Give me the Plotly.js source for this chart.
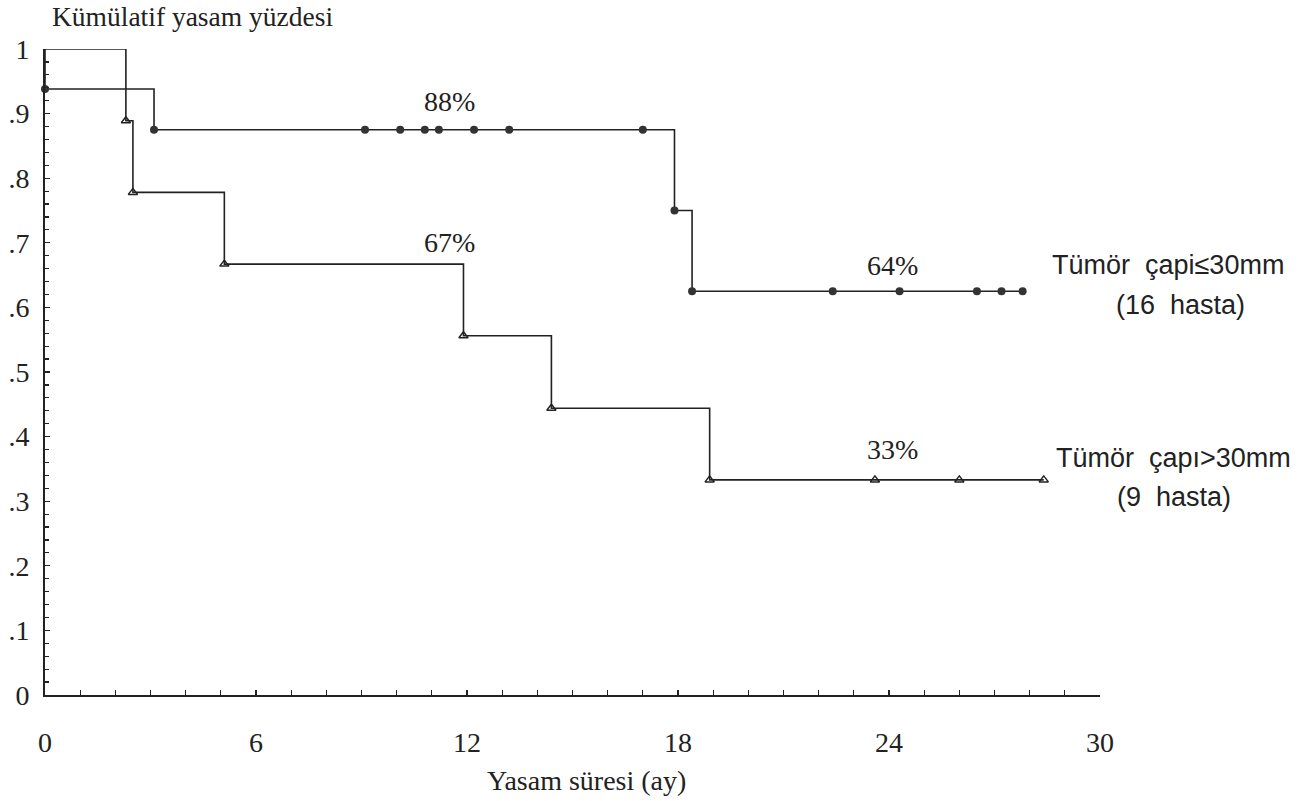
<!DOCTYPE html>
<html>
<head>
<meta charset="utf-8">
<script src="https://cdn.plot.ly/plotly-3.0.1.min.js"></script>
<style>
  html, body { margin: 0; padding: 0; background: #ffffff; }
  #chart { width: 1305px; height: 801px; }
</style>
</head>
<body>
<div id="chart"></div>
<script>
// ---- Data ----
// Group 1: Tümör çapı ≤ 30 mm (16 hasta) – filled circles
const smallStart = 1.0;
const smallEventMonths = [0, 3.1, 17.9, 18.4];
const smallSurvival   = [0.938, 0.875, 0.75, 0.625];
const smallCensorMonths = [9.1, 10.1, 10.8, 11.2, 12.2, 13.2, 17.0, 22.4, 24.3, 26.5, 27.2, 27.8];

// Group 2: Tümör çapı > 30 mm (9 hasta) – open triangles
const largeStart = 1.0;
const largeEventMonths = [2.3, 2.5, 5.1, 11.9, 14.4, 18.9];
const largeSurvival   = [0.889, 0.778, 0.667, 0.556, 0.444, 0.333];
const largeCensorMonths = [23.6, 26.0, 28.4];

// Axis tick labels
const xTickVals = [0, 6, 12, 18, 24, 30];
const xTickText = ['0', '6', '12', '18', '24', '30'];
const yTickVals = [0, 0.1, 0.2, 0.3, 0.4, 0.5, 0.6, 0.7, 0.8, 0.9, 1];
const yTickText = ['0', '.1', '.2', '.3', '.4', '.5', '.6', '.7', '.8', '.9', '1'];

// Text labels
const chartTitle = 'Kümülatif yasam yüzdesi';
const xTitle = 'Yasam süresi (ay)';
const percentLabels = ['88%', '67%', '64%', '33%'];
const groupLabels = ['Tümör\u00a0 çapi≤30mm', '(16\u00a0 hasta)', 'Tümör\u00a0 çapı>30mm', '(9\u00a0 hasta)'];

// ---- Helpers ----
function survivalAt(t, start, times, surv) {
  let s = start;
  for (let i = 0; i < times.length; i++) { if (times[i] <= t) s = surv[i]; }
  return s;
}
function stepLine(start, times, surv, censors) {
  const end = Math.max(times[times.length - 1], censors[censors.length - 1]);
  const x = [0].concat(times, [end]);
  const y = [start].concat(surv, [surv[surv.length - 1]]);
  return { x, y };
}

const ink = '#222222';
const serif = 'Liberation Serif, Times New Roman, serif';
const sans = 'Liberation Sans, Arial, sans-serif';

const s1 = stepLine(smallStart, smallEventMonths, smallSurvival, smallCensorMonths);
const s2 = stepLine(largeStart, largeEventMonths, largeSurvival, largeCensorMonths);

const traces = [
  { x: s1.x, y: s1.y, mode: 'lines', line: { shape: 'hv', color: ink, width: 1.6 }, cliponaxis: false, hoverinfo: 'skip', showlegend: false },
  { x: s2.x, y: s2.y, mode: 'lines', line: { shape: 'hv', color: ink, width: 1.6 }, cliponaxis: false, hoverinfo: 'skip', showlegend: false },
  { x: smallEventMonths.concat(smallCensorMonths),
    y: smallSurvival.concat(smallCensorMonths.map(t => survivalAt(t, smallStart, smallEventMonths, smallSurvival))),
    mode: 'markers', marker: { symbol: 'circle', size: 8, color: '#333333' }, cliponaxis: false, showlegend: false },
  { x: largeEventMonths.concat(largeCensorMonths),
    y: largeSurvival.concat(largeCensorMonths.map(t => survivalAt(t, largeStart, largeEventMonths, largeSurvival))),
    mode: 'markers', marker: { symbol: 'triangle-up-open', size: 8, color: ink, line: { width: 1.5, color: ink } }, cliponaxis: false, showlegend: false }
];

const annotations = [
  { text: percentLabels[0], x: 11.5, y: 0.918, xref: 'x', yref: 'y' },
  { text: percentLabels[1], x: 11.5, y: 0.70, xref: 'x', yref: 'y' },
  { text: percentLabels[2], x: 24.1, y: 0.665, xref: 'x', yref: 'y' },
  { text: percentLabels[3], x: 24.1, y: 0.38, xref: 'x', yref: 'y' }
].map(a => Object.assign(a, { showarrow: false, xanchor: 'center', yanchor: 'middle', font: { family: serif, size: 28, color: ink } }));

const sideLabels = [
  { text: groupLabels[0], x: 1.0645, y: 0.665 },
  { text: groupLabels[1], x: 1.076, y: 0.604 },
  { text: groupLabels[2], x: 1.070, y: 0.367 },
  { text: groupLabels[3], x: 1.070, y: 0.306 }
].map(a => Object.assign(a, { xref: 'paper', yref: 'paper', showarrow: false, xanchor: 'center', yanchor: 'middle', font: { family: sans, size: 27, color: ink } }));

const xTitleAnn = { text: xTitle, xref: 'paper', yref: 'paper', x: 0.513, y: -0.133, showarrow: false, xanchor: 'center', yanchor: 'middle', font: { family: serif, size: 28, color: ink } };

const layout = {
  width: 1305, height: 801,
  paper_bgcolor: '#ffffff', plot_bgcolor: '#ffffff',
  margin: { l: 45, r: 205, t: 49, b: 106 },
  title: { text: chartTitle, xref: 'container', yref: 'container', x: 52 / 1305, xanchor: 'left', y: 1 - 16 / 801, yanchor: 'middle', font: { family: serif, size: 27.5, color: ink } },
  xaxis: {
    range: [0, 30], showgrid: false, zeroline: false, showline: true, linecolor: ink, linewidth: 2,
    tickvals: xTickVals, ticktext: xTickText, ticks: 'inside', ticklen: 5, tickcolor: ink, tickwidth: 1.2,
    minor: { dtick: 1, ticks: 'inside', ticklen: 5, tickcolor: ink, tickwidth: 1.2 },
    tickfont: { family: serif, size: 28, color: ink }, ticklabelstandoff: 21,
    automargin: false, fixedrange: true
  },
  yaxis: {
    range: [0, 1], showgrid: false, zeroline: false, showline: true, linecolor: ink, linewidth: 2,
    tickvals: yTickVals, ticktext: yTickText, ticks: 'inside', ticklen: 5, tickcolor: ink, tickwidth: 1.2,
    minor: { dtick: 0.02, ticks: 'inside', ticklen: 4, tickcolor: ink, tickwidth: 1.2 },
    tickfont: { family: serif, size: 28, color: ink }, ticklabelstandoff: 8,
    automargin: false, fixedrange: true
  },
  annotations: annotations.concat(sideLabels, [xTitleAnn]),
  showlegend: false
};

Plotly.newPlot('chart', traces, layout, { staticPlot: true, displayModeBar: false });
</script>
</body>
</html>
